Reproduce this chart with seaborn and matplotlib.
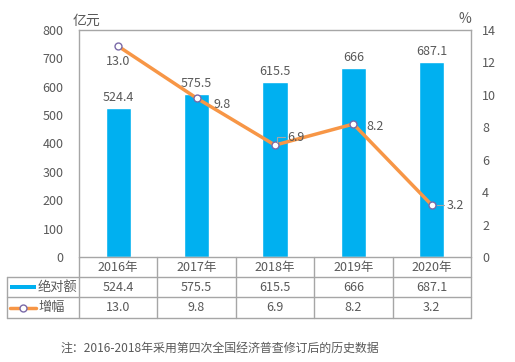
import matplotlib
matplotlib.use('Agg')
import matplotlib.pyplot as plt
import seaborn as sns
import pandas as pd

years = ['2016年', '2017年', '2018年', '2019年', '2020年']
amount = [524.4, 575.5, 615.5, 666, 687.1]
amount_text = ['524.4', '575.5', '615.5', '666', '687.1']
growth = [13.0, 9.8, 6.9, 8.2, 3.2]
growth_text = ['13.0', '9.8', '6.9', '8.2', '3.2']

sns.set_style('white')
plt.rcParams['font.family'] = ['Noto Sans CJK SC', 'DejaVu Sans']
plt.rcParams['font.size'] = 9

gray = '#595959'
edge = '#A6A6A6'
blue = '#00B0F0'
orange = '#F79646'
purple = '#7A6AA8'

df = pd.DataFrame({'year': years, 'amount': amount, 'growth': growth})

W, H = 515, 362
fig = plt.figure(figsize=(W / 100, H / 100), dpi=100)
ax = fig.add_axes([79 / W, 1 - 257 / H, 392 / W, 227 / H])

sns.barplot(data=df, x='year', y='amount', color=blue, width=0.32,
            saturation=1, ax=ax)
ax.set_ylim(0, 800)
ax.set_xlim(-0.5, 4.5)
ax.set_yticks(range(0, 801, 100))
ax.set_xticks([])
ax.set_xlabel('')
ax.set_ylabel('')
ax.tick_params(axis='y', colors=gray, labelsize=9, length=0, pad=11)
for s in ['left', 'right', 'top']:
    ax.spines[s].set_color(edge)
    ax.spines[s].set_linewidth(1)
ax.spines['bottom'].set_visible(False)

for i, v in enumerate(amount):
    ax.text(i, v + 14, amount_text[i], ha='center', va='bottom',
            color=gray, fontsize=9)

ax2 = ax.twinx()
sns.lineplot(x=list(range(len(years))), y=growth, ax=ax2, color=orange,
             linewidth=2.5, marker='o', markersize=5,
             markerfacecolor='white', markeredgecolor=purple,
             markeredgewidth=1)
ax2.set_ylim(0, 14)
ax2.set_xlim(-0.5, 4.5)
ax2.set_yticks(range(0, 15, 2))
ax2.tick_params(axis='y', colors=gray, labelsize=9, length=0, pad=8)
for s in ax2.spines.values():
    s.set_visible(False)

# growth labels (dx in category units, dy in percent units)
offsets = [(0, -0.93, 'center'), (0.21, -0.37, 'left'), (0.16, 0.49, 'left'),
           (0.17, -0.18, 'left'), (0.19, 0, 'left')]
for i, v in enumerate(growth):
    dx, dy, ha = offsets[i]
    ax2.text(i + dx, v + dy, growth_text[i], ha=ha, va='center',
             color=gray, fontsize=9)
# leader lines
ax2.plot([2.03, 2.03, 2.13], [7.05, 7.4, 7.4], color=edge, lw=0.8)
ax2.plot([4.07, 4.16], [3.2, 3.2], color=edge, lw=0.8)

W_ax = 392
ax.text(-6 / W_ax, 1 + 2 / 227, '亿元', transform=ax.transAxes, ha='left',
        va='bottom', color=gray, fontsize=10)
ax2.text(1.0, 1 + 4 / 227, '%', transform=ax.transAxes, ha='right',
         va='bottom', color=gray, fontsize=10)

# data table under the chart
left_px, right_px = 7, 471
rows_px = [257, 277, 297, 318]
col_px = [79 + 78.4 * k for k in range(6)]


def fx(px):
    return px / W


def fy(py):
    return 1 - py / H


for j, y in enumerate(rows_px):
    x0 = 79 if j == 0 else left_px
    fig.add_artist(plt.Line2D([fx(x0), fx(right_px)], [fy(y), fy(y)],
                              color=edge, lw=1))
fig.add_artist(plt.Line2D([fx(left_px), fx(left_px)], [fy(277), fy(318)],
                          color=edge, lw=1))
for x in col_px:
    fig.add_artist(plt.Line2D([fx(x), fx(x)], [fy(257), fy(318)],
                              color=edge, lw=1))

for k in range(5):
    cx = fx((col_px[k] + col_px[k + 1]) / 2)
    fig.text(cx, fy(267.5), years[k], ha='center', va='center', color=gray,
             fontsize=9)
    fig.text(cx, fy(287.5), amount_text[k], ha='center', va='center',
             color=gray, fontsize=9)
    fig.text(cx, fy(307.5), growth_text[k], ha='center', va='center',
             color=gray, fontsize=9)

fig.add_artist(plt.Rectangle((fx(10), fy(289)), fx(26), 4 / H,
                             color=blue, lw=0))
fig.add_artist(plt.Line2D([fx(10), fx(36)], [fy(308), fy(308)],
                          color=orange, lw=2.5))
fig.add_artist(plt.Line2D([fx(23)], [fy(308)], marker='o', markersize=5,
                          markerfacecolor='white', markeredgecolor=purple,
                          markeredgewidth=1))
fig.text(fx(38), fy(287.5), '绝对额', ha='left', va='center', color=gray,
         fontsize=9.5)
fig.text(fx(38), fy(307.5), '增幅', ha='left', va='center', color=gray,
         fontsize=9.5)

fig.text(fx(60), fy(348), '注：2016-2018年采用第四次全国经济普查修订后的历史数据',
         ha='left', va='center', color=gray, fontsize=8.6)

fig.savefig('out.png', dpi=100)
